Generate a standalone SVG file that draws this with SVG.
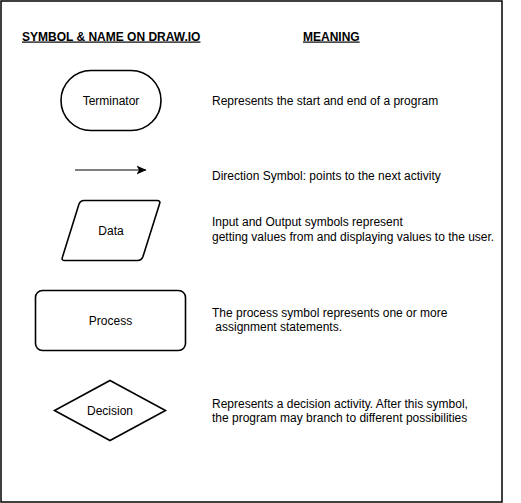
<svg xmlns="http://www.w3.org/2000/svg" width="521" height="503" viewBox="0 0 521 503">
<style>
  text { font-family: "Liberation Sans", Arial, Helvetica, sans-serif; font-size: 12px; fill: #000; }
  .hdr { font-weight: bold; text-decoration: underline; }
  .lbl { text-anchor: middle; }
  .shape { fill: #fff; stroke: #000; stroke-width: 1.6; }
</style>
<defs>
  <marker id="arrow" viewBox="0 0 10 10" refX="9.5" refY="5" markerWidth="10" markerHeight="10" markerUnits="userSpaceOnUse" orient="auto">
    <path d="M0,0.5 L10,5 L0,9.5 L2.5,5 Z" fill="#000"/>
  </marker>
</defs>
<rect x="1" y="1" width="501" height="501" fill="#fff" stroke="#000" stroke-width="1.5"/>

<g id="headers">
  <text class="hdr" x="22" y="40.5">SYMBOL &amp; NAME ON DRAW.IO</text>
  <text class="hdr" x="303" y="40.5">MEANING</text>
</g>

<g id="terminator">
  <rect class="shape" x="61" y="70.5" width="100" height="60" rx="30" ry="30"/>
  <text class="lbl" x="111" y="104.8">Terminator</text>
</g>

<g id="connectors">
  <line x1="75" y1="170" x2="146" y2="170" stroke="#000" stroke-width="1" marker-end="url(#arrow)"/>
</g>

<g id="data">
  <path class="shape" d="M84,200.5 L157,200.5 Q161,200.5 159.5,204 L143,256.5 Q141.5,260.5 137.5,260.5 L65,260.5 Q61,260.5 62.5,257 L79,204 Q80.5,200.5 84,200.5 Z"/>
  <text class="lbl" x="111" y="235">Data</text>
</g>

<g id="process">
  <rect class="shape" x="35.5" y="290.5" width="150" height="60" rx="7" ry="7"/>
  <text class="lbl" x="110.5" y="325">Process</text>
</g>

<g id="decision">
  <polygon class="shape" points="110,380.5 165.5,410.5 110,440.5 54.5,410.5"/>
  <text class="lbl" x="110" y="414.5">Decision</text>
</g>

<g id="meanings">
  <text x="212" y="104.8">Represents the start and end of a program</text>
  <text x="212" y="179.5">Direction Symbol: points to the next activity</text>
  <text x="212" y="226.3">Input and Output symbols represent</text>
  <text x="212" y="240.7">getting values from and displaying values to the user.</text>
  <text x="212" y="316.7">The process symbol represents one or more</text>
  <text x="215.3" y="331.1">assignment statements.</text>
  <text x="212" y="408">Represents a decision activity. After this symbol,</text>
  <text x="212" y="422.4">the program may branch to different possibilities</text>
</g>
</svg>
